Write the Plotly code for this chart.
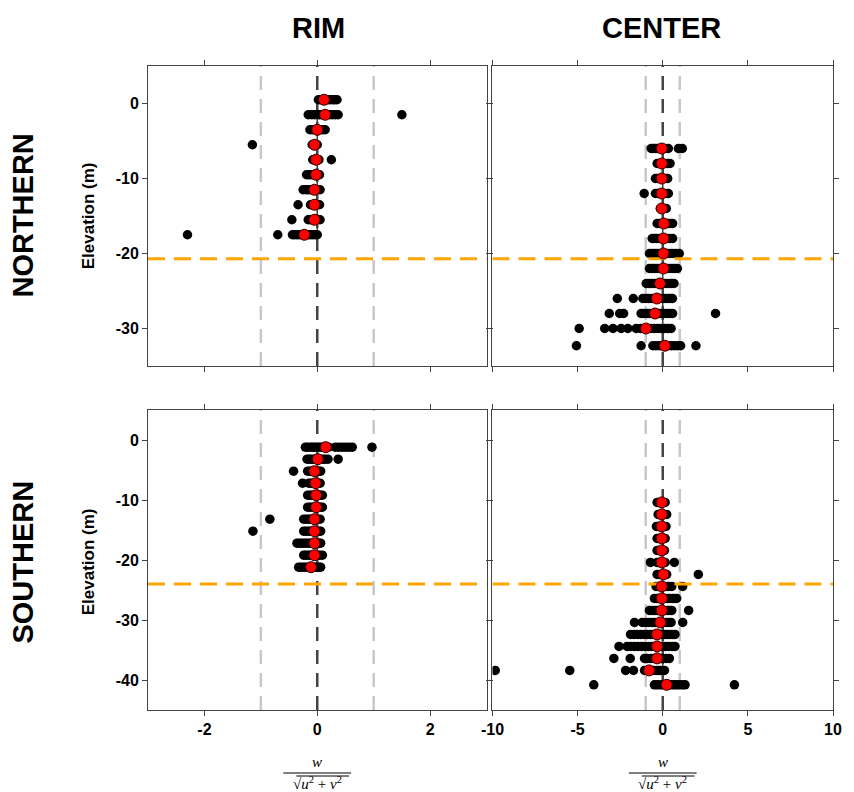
import plotly.graph_objects as go
from plotly.subplots import make_subplots

# ---------------- data: w / sqrt(u^2+v^2) samples per elevation level ----------------
# NORTHERN / RIM
nr_levels = [0.5, -1.5, -3.5, -5.5, -7.5, -9.5, -11.5, -13.5, -15.5, -17.5]
nr_samples = [
    [0.02, 0.06, 0.10, 0.13, 0.17, 0.20, 0.24, 0.28, 0.31, 0.35],
    [-0.16, -0.10, -0.05, 0.00, 0.04, 0.08, 0.12, 0.17, 0.22, 0.27, 0.32, 0.37, 1.50],
    [-0.13, -0.09, -0.05, -0.02, 0.02, 0.06, 0.10, 0.14],
    [-1.15, -0.09, -0.06, -0.03, 0.00],
    [-0.08, -0.05, -0.02, 0.01, 0.03, 0.25],
    [-0.19, -0.15, -0.11, -0.07, -0.03, 0.00, 0.04],
    [-0.25, -0.20, -0.16, -0.12, -0.08, -0.04, 0.00, 0.05],
    [-0.34, -0.12, -0.08, -0.04, 0.00, 0.04],
    [-0.45, -0.16, -0.12, -0.08, -0.04, 0.00, 0.05],
    [-2.30, -0.70, -0.44, -0.40, -0.36, -0.32, -0.28, -0.24, -0.20, -0.16, -0.12, -0.08, -0.04, 0.00],
]
nr_mean = [0.12, 0.14, 0.00, -0.05, -0.02, -0.02, -0.05, -0.05, -0.05, -0.23]

# NORTHERN / CENTER
nc_levels = [-6, -8, -10, -12, -14, -16, -18, -20, -22, -24, -26, -28, -30, -32.3]
nc_samples = [
    [-0.68, -0.55, -0.42, -0.30, -0.18, -0.06, 0.06, 0.18, 0.33, 0.92, 1.15],
    [-0.33, -0.20, -0.08, 0.05, 0.18, 0.30, 0.43],
    [-0.43, -0.30, -0.18, -0.06, 0.06, 0.18, 0.29],
    [-1.09, -0.43, -0.30, -0.18, -0.06, 0.06, 0.20, 0.33],
    [-0.14, -0.02, 0.10, 0.21],
    [-0.33, -0.20, -0.08, 0.05, 0.18, 0.30, 0.44, 0.58],
    [-0.62, -0.48, -0.35, -0.22, -0.10, 0.02, 0.15, 0.28, 0.42, 0.58],
    [-0.78, -0.60, -0.45, -0.30, -0.15, 0.00, 0.15, 0.30, 0.45, 0.60, 0.78, 0.97],
    [-0.78, -0.62, -0.48, -0.33, -0.18, -0.04, 0.10, 0.25, 0.40, 0.55, 0.70, 0.86],
    [-0.97, -0.80, -0.64, -0.48, -0.32, -0.16, 0.00, 0.16, 0.32, 0.50, 0.66],
    [-2.67, -1.73, -1.17, -1.00, -0.83, -0.66, -0.50, -0.33, -0.16, 0.00, 0.16, 0.33, 0.45, 0.57],
    [-3.14, -2.53, -2.30, -1.27, -1.10, -0.93, -0.76, -0.60, -0.43, -0.26, -0.10, 0.07, 0.24, 0.41, 0.58, 3.10],
    [-4.91, -3.41, -2.92, -2.44, -2.05, -1.56, -1.30, -1.10, -0.90, -0.70, -0.50, -0.30, -0.10, 0.10, 0.30, 0.49],
    [-5.07, -1.27, -0.58, -0.40, -0.22, -0.05, 0.12, 0.30, 0.50, 0.70, 0.88, 1.05, 1.95],
]
nc_mean = [-0.06, -0.06, -0.06, -0.06, -0.06, 0.06, 0.04, 0.04, 0.04, -0.16, -0.35, -0.45, -0.99, 0.12]

# SOUTHERN / RIM
sr_levels = [-1.2, -3.2, -5.2, -7.2, -9.2, -11.2, -13.2, -15.2, -17.2, -19.2, -21.2]
sr_samples = [
    [-0.21, -0.17, -0.12, -0.08, -0.04, 0.00, 0.04, 0.08, 0.12, 0.16, 0.20,
     0.32, 0.38, 0.44, 0.50, 0.56, 0.62, 0.97],
    [-0.18, -0.14, -0.10, -0.06, -0.02, 0.02, 0.06, 0.10, 0.14, 0.19, 0.37],
    [-0.42, -0.17, -0.13, -0.09, -0.05, -0.01, 0.03, 0.06],
    [-0.26, -0.15, -0.11, -0.07, -0.03, 0.01, 0.05],
    [-0.17, -0.13, -0.09, -0.05, -0.01, 0.03, 0.06, 0.09],
    [-0.17, -0.13, -0.09, -0.05, -0.01, 0.03, 0.06, 0.09],
    [-0.84, -0.24, -0.20, -0.16, -0.12, -0.08, -0.04, 0.00, 0.05],
    [-1.14, -0.24, -0.20, -0.16, -0.12, -0.08, -0.04, 0.00, 0.03, 0.06],
    [-0.36, -0.32, -0.28, -0.24, -0.20, -0.16, -0.12, -0.08, -0.04, 0.00, 0.03, 0.06],
    [-0.24, -0.20, -0.16, -0.12, -0.08, -0.04, 0.00, 0.04, 0.09],
    [-0.33, -0.29, -0.25, -0.21, -0.17, -0.13, -0.09, -0.05, -0.01, 0.03, 0.06],
]
sr_mean = [0.15, 0.01, -0.05, -0.03, -0.02, -0.02, -0.05, -0.05, -0.05, -0.05, -0.11]

# SOUTHERN / CENTER
sc_levels = [-10.4, -12.4, -14.4, -16.4, -18.4, -20.4, -22.4, -24.4,
             -26.4, -28.4, -30.4, -32.4, -34.4, -36.4, -38.4, -40.8]
sc_samples = [
    [-0.33, -0.20, -0.08, 0.04, 0.14],
    [-0.27, -0.15, -0.03, 0.10, 0.23],
    [-0.37, -0.24, -0.10, 0.04, 0.19],
    [-0.33, -0.20, -0.08, 0.04, 0.14],
    [-0.33, -0.20, -0.08, 0.02, 0.10],
    [-0.72, -0.33, -0.20, -0.08, 0.04, 0.14, 0.68],
    [-0.33, -0.20, -0.08, 0.04, 0.14, 0.23, 2.09],
    [-0.39, -0.25, -0.10, 0.05, 0.20, 0.35, 0.53, 1.17],
    [-0.49, -0.34, -0.19, -0.04, 0.10, 0.25, 0.40, 0.55, 0.68, 0.82],
    [-0.78, -0.62, -0.46, -0.30, -0.15, 0.00, 0.15, 0.30, 0.42, 0.53, 1.52],
    [-1.66, -1.20, -0.98, -0.80, -0.62, -0.45, -0.28, -0.10, 0.06, 0.22, 0.36, 0.49, 1.17],
    [-1.89, -1.70, -1.50, -1.30, -1.10, -0.92, -0.75, -0.58, -0.40, -0.22, -0.05, 0.12,
     0.28, 0.44, 0.58, 0.72],
    [-2.57, -2.09, -1.88, -1.66, -1.45, -1.25, -1.05, -0.85, -0.65, -0.45, -0.25, -0.05,
     0.15, 0.35, 0.55, 0.72],
    [-2.87, -1.91, -1.07, -0.90, -0.72, -0.54, -0.36, -0.18, 0.00, 0.20, 0.39],
    [-9.84, -5.46, -2.18, -1.72, -1.07, -0.90, -0.72, -0.55, -0.38, -0.22, -0.10, 0.10],
    [-4.05, -0.49, -0.33, -0.16, 0.00, 0.16, 0.33, 0.50, 0.66, 0.82, 0.98, 1.15, 1.31, 4.21],
]
sc_mean = [-0.06, -0.06, -0.06, -0.06, -0.06, -0.06, 0.04, -0.06,
           -0.06, -0.06, -0.14, -0.33, -0.33, -0.33, -0.80, 0.23]

# reference elevation for each site (orange dashed)
north_ref_elev = -20.7
south_ref_elev = -24.0

col_titles = ["RIM", "CENTER"]
row_titles = ["NORTHERN", "SOUTHERN"]
x_ranges = [[-3, 3], [-10, 10]]
x_ticks = [[-2, 0, 2], [-10, -5, 0, 5, 10]]
y_ranges = [[-35, 5], [-45, 5]]
y_ticks = [[0, -10, -20, -30], [0, -10, -20, -30, -40]]

# ---------------- figure ----------------
W, H = 854, 792
ML, MR, MT, MB = 148, 18, 66, 82
PW, PH = W - ML - MR, H - MT - MB


def paper_x(px):
    return (px - ML) / PW


def paper_y(py):
    return (H - MB - py) / PH


def axis_id(r, c):
    k = (r - 1) * 2 + c
    return "" if k == 1 else str(k)


fig = make_subplots(rows=2, cols=2)
fig.update_layout(
    xaxis=dict(domain=[0, paper_x(488)]), xaxis2=dict(domain=[paper_x(494), 1]),
    xaxis3=dict(domain=[0, paper_x(488)]), xaxis4=dict(domain=[paper_x(494), 1]),
    yaxis=dict(domain=[paper_y(366), 1]), yaxis2=dict(domain=[paper_y(366), 1]),
    yaxis3=dict(domain=[0, paper_y(410)]), yaxis4=dict(domain=[0, paper_y(410)]),
)

panels = [
    (1, 1, nr_levels, nr_samples, nr_mean, north_ref_elev),
    (1, 2, nc_levels, nc_samples, nc_mean, north_ref_elev),
    (2, 1, sr_levels, sr_samples, sr_mean, south_ref_elev),
    (2, 2, sc_levels, sc_samples, sc_mean, south_ref_elev),
]

DARK = "#444444"
LIGHT = "#c8c8c8"

for r, c, levels, samples, means, ref in panels:
    xr = x_ranges[c - 1]
    aid = axis_id(r, c)
    # vertical reference lines at -1, 0, +1
    for xv, col in [(-1, LIGHT), (1, LIGHT), (0, DARK)]:
        fig.add_shape(type="line", x0=xv, x1=xv, y0=0, y1=1, xref=f"x{aid}",
                      yref=f"y{aid} domain",
                      line=dict(color=col, width=2.5, dash="14px,9px"), layer="below")
    # solid zero line through the profile
    fig.add_trace(go.Scatter(x=[0, 0], y=[levels[0], levels[-1]], mode="lines",
                             line=dict(color=DARK, width=1.5), showlegend=False,
                             hoverinfo="skip"), row=r, col=c)
    xs, ys = [], []
    for lev, vals in zip(levels, samples):
        xs.extend(vals)
        ys.extend([lev] * len(vals))
    fig.add_trace(go.Scatter(x=xs, y=ys, mode="markers",
                             marker=dict(color="black", size=9.5, line=dict(width=0)),
                             showlegend=False), row=r, col=c)
    fig.add_trace(go.Scatter(x=xr, y=[ref, ref], mode="lines",
                             line=dict(color="#ffa500", width=3, dash="17px,9px"),
                             showlegend=False, hoverinfo="skip"), row=r, col=c)
    fig.add_trace(go.Scatter(x=means, y=levels, mode="markers",
                             marker=dict(color="#ff0000", size=11,
                                         line=dict(color="#330000", width=1)),
                             showlegend=False), row=r, col=c)

SANS = "Liberation Sans, Arial, sans-serif"
tick_font = dict(family=SANS, size=16, color="black", weight="bold")
axis_common = dict(showline=True, linecolor=DARK, linewidth=1, mirror="ticks", ticks="outside",
                   ticklen=5, tickcolor=DARK, showgrid=False, zeroline=False, tickfont=tick_font)

for r in (1, 2):
    for c in (1, 2):
        fig.update_xaxes(range=x_ranges[c - 1], tickvals=x_ticks[c - 1],
                         ticktext=[str(v) for v in x_ticks[c - 1]],
                         showticklabels=(r == 2), row=r, col=c, **axis_common)
        fig.update_yaxes(range=y_ranges[r - 1], tickvals=y_ticks[r - 1],
                         ticktext=[str(v) for v in y_ticks[r - 1]],
                         showticklabels=(c == 1), row=r, col=c, **axis_common)

title_font = dict(family=SANS, size=29, color="black", weight="bold")
ann = []
for txt, cx in zip(col_titles, [319, 664]):
    ann.append(dict(text=txt, x=paper_x(cx), y=paper_y(28), xref="paper", yref="paper",
                    showarrow=False, font=title_font, xanchor="center", yanchor="middle"))
for txt, cy in zip(row_titles, [216, 562]):
    ann.append(dict(text=txt, x=paper_x(22), y=paper_y(cy), xref="paper", yref="paper",
                    showarrow=False, font=title_font, textangle=-90,
                    xanchor="center", yanchor="middle"))
    ann.append(dict(text="Elevation (m)", x=paper_x(88), y=paper_y(cy), xref="paper", yref="paper",
                    showarrow=False, textangle=-90, xanchor="center", yanchor="middle",
                    font=dict(family=SANS, size=17, color="black", weight="bold")))

# x-axis label: w / sqrt(u^2 + v^2)
math_font = dict(family="Liberation Serif, DejaVu Serif, serif", size=15, color="black")
for cx in [318, 665]:
    ann.append(dict(text="<i>w</i>", x=paper_x(cx), y=paper_y(762), xref="paper", yref="paper",
                    showarrow=False, font=math_font, xanchor="center", yanchor="middle"))
    ann.append(dict(text="√<i>u</i><sup>2</sup> + <i>v</i><sup>2</sup>", x=paper_x(cx),
                    y=paper_y(783), xref="paper", yref="paper", showarrow=False,
                    font=math_font, xanchor="center", yanchor="middle"))
    fig.add_shape(type="line", xref="paper", yref="paper",
                  x0=paper_x(cx - 34), x1=paper_x(cx + 34), y0=paper_y(773), y1=paper_y(773),
                  line=dict(color="black", width=1.2))
    fig.add_shape(type="line", xref="paper", yref="paper",
                  x0=paper_x(cx - 21), x1=paper_x(cx + 32), y0=paper_y(776), y1=paper_y(776),
                  line=dict(color="black", width=1))

fig.update_layout(
    width=W, height=H, margin=dict(l=ML, r=MR, t=MT, b=MB),
    plot_bgcolor="white", paper_bgcolor="white", annotations=ann, showlegend=False,
)

fig.write_html("out.html")
